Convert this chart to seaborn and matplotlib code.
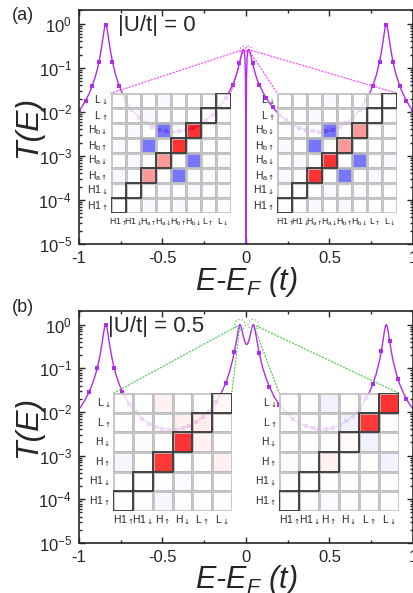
import numpy as np
import pandas as pd
import matplotlib
matplotlib.use("Agg")
import matplotlib.pyplot as plt
import seaborn as sns
from matplotlib.patches import Rectangle, ConnectionPatch
from matplotlib.ticker import LogLocator, NullFormatter, FixedLocator

# ---------------- data ----------------
# panel (a): |U/t| = 0 ; energies and log10 of transmission
x_a = [-1.00, -0.98, -0.96, -0.94, -0.92, -0.90, -0.89, -0.88, -0.87, -0.86, -0.855, -0.85, -0.845, -0.84,
       -0.835, -0.83, -0.825, -0.82, -0.81, -0.80, -0.78, -0.76, -0.74, -0.72, -0.68, -0.64, -0.60, -0.56,
       -0.52, -0.48, -0.44, -0.40, -0.36, -0.32, -0.28, -0.24, -0.20, -0.16, -0.12, -0.10, -0.08, -0.07,
       -0.06, -0.05, -0.04, -0.035, -0.03, -0.025, -0.02, -0.015, -0.01, -0.006, -0.003, -0.001, 0.0,
       0.001, 0.003, 0.006, 0.01, 0.015, 0.02, 0.025, 0.03, 0.035, 0.04, 0.05, 0.06, 0.07, 0.08, 0.10,
       0.12, 0.16, 0.20, 0.24, 0.28, 0.32, 0.36, 0.40, 0.44, 0.48, 0.52, 0.56, 0.60, 0.64, 0.68, 0.72,
       0.74, 0.76, 0.78, 0.80, 0.81, 0.82, 0.825, 0.83, 0.835, 0.84, 0.845, 0.85, 0.855, 0.86, 0.87,
       0.88, 0.89, 0.90, 0.92, 0.94, 0.96, 0.98, 1.00]
logT_a = [-1.982, -1.871, -1.743, -1.590, -1.406, -1.172, -1.028, -0.858, -0.655, -0.414, -0.283, -0.157,
          -0.060, -0.022, -0.059, -0.157, -0.283, -0.414, -0.654, -0.858, -1.171, -1.403, -1.586, -1.735,
          -1.964, -2.132, -2.256, -2.344, -2.407, -2.441, -2.455, -2.442, -2.413, -2.361, -2.288, -2.190,
          -2.064, -1.901, -1.684, -1.542, -1.385, -1.30, -1.19, -1.06, -0.90, -0.82, -0.74, -0.67, -0.61,
          -0.585, -0.62, -0.80, -1.30, -2.80, -6.0,
          -2.80, -1.30, -0.80, -0.62, -0.585, -0.61, -0.67, -0.74, -0.82, -0.90, -1.06, -1.19, -1.30,
          -1.385, -1.542, -1.684, -1.901, -2.064, -2.190, -2.288, -2.361, -2.413, -2.442, -2.455, -2.441,
          -2.407, -2.344, -2.256, -2.132, -1.964, -1.735, -1.586, -1.403, -1.171, -0.858, -0.654, -0.414,
          -0.283, -0.157, -0.059, -0.022, -0.060, -0.157, -0.283, -0.414, -0.655, -0.858, -1.028, -1.172,
          -1.406, -1.590, -1.743, -1.871, -1.982]
marks_a = [-1.00, -0.96, -0.92, -0.88, -0.84, -0.80, -0.76, -0.72, -0.68, -0.64, -0.60, -0.56, -0.52,
           -0.48, -0.44, -0.40, -0.36, -0.32, -0.28, -0.24, -0.20, -0.16, -0.12, -0.08, -0.04,
           0.04, 0.08, 0.12, 0.16, 0.20, 0.24, 0.28, 0.32, 0.36, 0.40, 0.44, 0.48, 0.52, 0.56, 0.60,
           0.64, 0.68, 0.72, 0.76, 0.80, 0.84, 0.88, 0.92, 0.96, 1.00]
peaks_a = [-0.015, 0.015]
peakT_a = [0.26, 0.26]

# panel (b): |U/t| = 0.5
x_b = [-1.00, -0.98, -0.96, -0.94, -0.92, -0.90, -0.89, -0.88, -0.87, -0.86, -0.855, -0.85, -0.845, -0.84,
       -0.835, -0.83, -0.825, -0.82, -0.81, -0.80, -0.79, -0.78, -0.76, -0.74, -0.72, -0.70, -0.66, -0.62,
       -0.58, -0.54, -0.50, -0.46, -0.42, -0.38, -0.34, -0.30, -0.26, -0.22, -0.18, -0.15, -0.12, -0.10,
       -0.08, -0.07, -0.06, -0.05, -0.045, -0.04, -0.036, -0.03, -0.025, -0.02, -0.01, 0.0, 0.004, 0.01,
       0.02, 0.03, 0.035, 0.04, 0.044, 0.05, 0.055, 0.06, 0.07, 0.08, 0.09, 0.10, 0.12, 0.14, 0.17, 0.20,
       0.24, 0.28, 0.32, 0.36, 0.40, 0.44, 0.48, 0.52, 0.56, 0.60, 0.64, 0.68, 0.70, 0.72, 0.74, 0.76,
       0.78, 0.80, 0.81, 0.82, 0.825, 0.83, 0.835, 0.84, 0.845, 0.85, 0.855, 0.86, 0.87, 0.88, 0.90,
       0.91, 0.92, 0.94, 0.96, 0.98, 1.00]
logT_b = [-1.938, -1.827, -1.697, -1.545, -1.360, -1.127, -0.985, -0.814, -0.613, -0.377, -0.249, -0.128,
          -0.036, 0.0, -0.036, -0.128, -0.249, -0.376, -0.612, -0.813, -0.983, -1.126, -1.358, -1.541,
          -1.690, -1.815, -2.012, -2.159, -2.266, -2.341, -2.388, -2.409, -2.402, -2.371, -2.313, -2.229,
          -2.114, -1.968, -1.772, -1.580, -1.331, -1.10, -0.81, -0.63, -0.425, -0.20, -0.099, -0.029, 0.0,
          -0.035, -0.108, -0.199, -0.361, -0.449, -0.456, -0.439, -0.333, -0.162, -0.076, -0.015, 0.0,
          -0.053, -0.136, -0.241, -0.461, -0.66, -0.828, -0.99, -1.23, -1.42, -1.663, -1.836, -2.015,
          -2.152, -2.256, -2.331, -2.378, -2.399, -2.395, -2.363, -2.304, -2.214, -2.089, -1.920, -1.815,
          -1.689, -1.541, -1.358, -1.125, -0.814, -0.612, -0.376, -0.249, -0.128, -0.036, 0.0, -0.036,
          -0.128, -0.249, -0.377, -0.613, -0.814, -1.127, -1.254, -1.360, -1.545, -1.697, -1.827, -1.938]
marks_b = [-0.94, -0.89, -0.84, -0.79, -0.74, -0.70, -0.66, -0.62, -0.58, -0.54, -0.50, -0.46, -0.42,
           -0.38, -0.34, -0.30, -0.26, -0.22, -0.18, -0.12, -0.07, 0.08, 0.14, 0.20, 0.24, 0.28, 0.32,
           0.36, 0.40, 0.44, 0.48, 0.52, 0.56, 0.60, 0.64, 0.68, 0.72, 0.76, 0.81, 0.86, 0.91, 0.96]
peaks_b = [-0.036, 0.044]
peakT_b = [1.0, 1.0]

assert len(x_a) == len(logT_a) and len(x_b) == len(logT_b)

# inset matrices (state order as in column labels)
UP = r'\mathsf{\uparrow}'
DN = r'\mathsf{\downarrow}'
labels_a = [r'H1$_{%s}$' % UP, r'H1$_{%s}$' % DN, r'H$_{\mathrm{a}%s}$' % UP, r'H$_{\mathrm{a}%s}$' % DN,
            r'H$_{\mathrm{b}%s}$' % UP, r'H$_{\mathrm{b}%s}$' % DN, r'L$_{%s}$' % UP, r'L$_{%s}$' % DN]
labels_b = [r'H1$_{%s}$' % UP, r'H1$_{%s}$' % DN, r'H$_{%s}$' % UP, r'H$_{%s}$' % DN,
            r'L$_{%s}$' % UP, r'L$_{%s}$' % DN]

mat_a_left = [
    [0.00, 0.00, -0.03, 0.00, -0.03, 0.00, 0.00, 0.00],
    [0.00, 0.00, 0.00, -0.03, 0.00, -0.03, 0.00, 0.00],
    [-0.03, 0.00, 0.49, 0.00, -0.65, 0.00, -0.03, 0.00],
    [0.00, -0.03, 0.00, 0.49, 0.00, -0.65, 0.00, -0.03],
    [-0.03, 0.00, -0.65, 0.00, 0.97, 0.00, 0.00, 0.00],
    [0.00, -0.03, 0.00, -0.65, 0.00, 0.97, 0.00, 0.00],
    [0.00, 0.00, -0.03, 0.00, 0.00, 0.00, 0.00, 0.00],
    [0.00, 0.00, 0.00, -0.03, 0.00, 0.00, 0.00, 0.00]]
mat_a_right = [
    [0.00, 0.00, -0.03, 0.00, -0.03, 0.00, 0.00, 0.00],
    [0.00, 0.00, 0.00, -0.03, 0.00, -0.03, 0.00, 0.00],
    [-0.03, 0.00, 0.97, 0.00, -0.65, 0.00, -0.03, 0.00],
    [0.00, -0.03, 0.00, 0.97, 0.00, -0.65, 0.00, -0.03],
    [-0.03, 0.00, -0.65, 0.00, 0.49, 0.00, 0.00, 0.00],
    [0.00, -0.03, 0.00, -0.65, 0.00, 0.49, 0.00, 0.00],
    [0.00, 0.00, -0.03, 0.00, 0.00, 0.00, 0.00, 0.00],
    [0.00, 0.00, 0.00, -0.03, 0.00, 0.00, 0.00, 0.00]]
mat_b_left = [
    [0.00, 0.00, -0.04, 0.00, 0.00, 0.00],
    [0.00, 0.00, 0.00, -0.02, 0.00, 0.00],
    [-0.04, 0.00, 0.95, 0.00, 0.00, 0.07],
    [0.00, -0.02, 0.00, 0.97, 0.07, 0.00],
    [0.00, 0.00, 0.00, 0.07, 0.09, 0.00],
    [0.00, 0.00, 0.07, 0.00, 0.00, 0.04]]
mat_b_right = [
    [0.00, 0.00, -0.02, 0.00, 0.00, 0.00],
    [0.00, 0.00, 0.00, 0.00, 0.00, 0.00],
    [-0.02, 0.00, 0.07, 0.00, 0.00, -0.06],
    [0.00, 0.00, 0.00, 0.03, -0.06, 0.00],
    [0.00, 0.00, 0.00, -0.06, 0.95, 0.00],
    [0.00, 0.00, -0.06, 0.00, 0.00, 0.97]]

# ---------------- style ----------------
sns.set_style("ticks")
plt.rcParams['font.family'] = ['Liberation Sans', 'DejaVu Sans']
plt.rcParams['mathtext.fontset'] = 'custom'
plt.rcParams['mathtext.rm'] = 'Liberation Sans'
plt.rcParams['mathtext.it'] = 'Liberation Sans:italic'
plt.rcParams['mathtext.bf'] = 'Liberation Sans:bold'
plt.rcParams['mathtext.sf'] = 'DejaVu Sans'

PURPLE = '#b02cec'
W, H = 414, 593
fig = plt.figure(figsize=(W / 100, H / 100), dpi=100)
fig.patch.set_facecolor('white')


def main_panel(rect, xs, logT, marks):
    ax = fig.add_axes(rect)
    df = pd.DataFrame({'x': xs, 'T': 10 ** np.array(logT)})
    sns.lineplot(data=df, x='x', y='T', ax=ax, color=PURPLE, lw=1.0, estimator=None, sort=False)
    mk = df[np.isin(np.round(df['x'].values, 3), np.round(marks, 3))]
    sns.scatterplot(data=mk, x='x', y='T', ax=ax, marker='s', s=9, color=PURPLE, linewidth=0)
    ax.set_yscale('log')
    ax.set_xlim(-1, 1)
    ax.set_ylim(1e-5, 2.05)
    ax.yaxis.set_major_locator(LogLocator(base=10, numticks=12))
    ax.yaxis.set_minor_locator(LogLocator(base=10, subs=np.arange(2, 10), numticks=12))
    ax.yaxis.set_minor_formatter(NullFormatter())
    ax.set_xticks([-1, -0.5, 0, 0.5, 1], ['-1', '-0.5', '0', '0.5', '1'])
    ax.xaxis.set_minor_locator(FixedLocator([-0.75, -0.25, 0.25, 0.75]))
    ax.tick_params(which='both', direction='in', top=True, right=True, labelsize=12, width=1.0)
    ax.tick_params(which='major', length=4.5, pad=5)
    ax.tick_params(which='minor', length=2.5)
    for s in ax.spines.values():
        s.set_linewidth(1.2)
    ax.set_ylabel('T(E)', fontsize=23, fontstyle='italic')
    ax.set_xlabel('E-E$_F$ (t)', fontsize=22, fontstyle='italic')
    return ax


def inset(rect, mat, labels, xsize, ysize):
    iax = fig.add_axes(rect)
    n = len(labels)
    arr = np.array(mat)[::-1]
    df = pd.DataFrame(arr, index=labels[::-1], columns=labels)
    sns.heatmap(df, ax=iax, cmap='bwr', vmin=-1, vmax=1, cbar=False,
                xticklabels=labels, yticklabels=labels[::-1],
                linewidths=1.0, linecolor='#bcbcbc', alpha=0.82)
    iax.patch.set_alpha(0)
    for k in range(n):
        iax.add_patch(Rectangle((k, n - 1 - k), 1, 1, fill=False, ec='#383838', lw=1.3, zorder=5))
    iax.tick_params(length=0, pad=2)
    iax.tick_params(axis='x', labelsize=xsize)
    iax.tick_params(axis='y', labelsize=ysize)
    plt.setp(iax.get_xticklabels(), rotation=0)
    plt.setp(iax.get_yticklabels(), rotation=0)
    iax.set_xlabel('')
    iax.set_ylabel('')
    return iax


def zoom_lines(ax, px, py, insets_pairs, color, size):
    ax.scatter(px, py, s=size, facecolors='none', edgecolors=color, linestyles=':', linewidths=0.9, zorder=4)
    for (xp, yp), iax in zip(zip(px, py), insets_pairs):
        for corner in [(0, 1), (1, 1)]:
            con = ConnectionPatch(xyA=(xp, yp), coordsA=ax.transData, xyB=corner, coordsB=iax.transAxes,
                                  color=color, lw=0.9, ls=':')
            ax.add_artist(con)


# panel (a)
ax_a = main_panel([79 / W, 1 - 244 / H, 334 / W, 234 / H], x_a, logT_a, marks_a)
ins_a1 = inset([110.7 / W, 1 - 213.3 / H, 120 / W, 120 / H], mat_a_left, labels_a, 6.3, 7.5)
ins_a2 = inset([277.3 / W, 1 - 213.3 / H, 120 / W, 120 / H], mat_a_right, labels_a, 6.3, 7.5)
zoom_lines(ax_a, peaks_a, peakT_a, [ins_a1, ins_a2], '#ff4dff', 22)
ax_a.text(0.117, 0.935, '|U/t| = 0', transform=ax_a.transAxes, fontsize=16, va='center', ha='left')

# panel (b)
ax_b = main_panel([79 / W, 1 - 543 / H, 334 / W, 232 / H], x_b, logT_b, marks_b)
ins_b1 = inset([113.3 / W, 1 - 510.7 / H, 118.4 / W, 117.4 / H], mat_b_left, labels_b, 7.5, 7.5)
ins_b2 = inset([279.3 / W, 1 - 510.7 / H, 119.7 / W, 117.4 / H], mat_b_right, labels_b, 7.5, 7.5)
zoom_lines(ax_b, peaks_b, peakT_b, [ins_b1, ins_b2], '#5cc95c', 55)
ax_b.text(0.088, 0.935, '|U/t| = 0.5', transform=ax_b.transAxes, fontsize=16, va='center', ha='left')

for ax in (ax_a, ax_b):
    ax.yaxis.set_label_coords(-0.108, 0.5)
    ax.xaxis.set_label_coords(0.5, -0.088)

fig.text(23 / W, 1 - 16 / H, '(a)', fontsize=13, ha='center', va='center')
fig.text(23 / W, 1 - 307 / H, '(b)', fontsize=13, ha='center', va='center')

fig.savefig('out.png', dpi=100)
